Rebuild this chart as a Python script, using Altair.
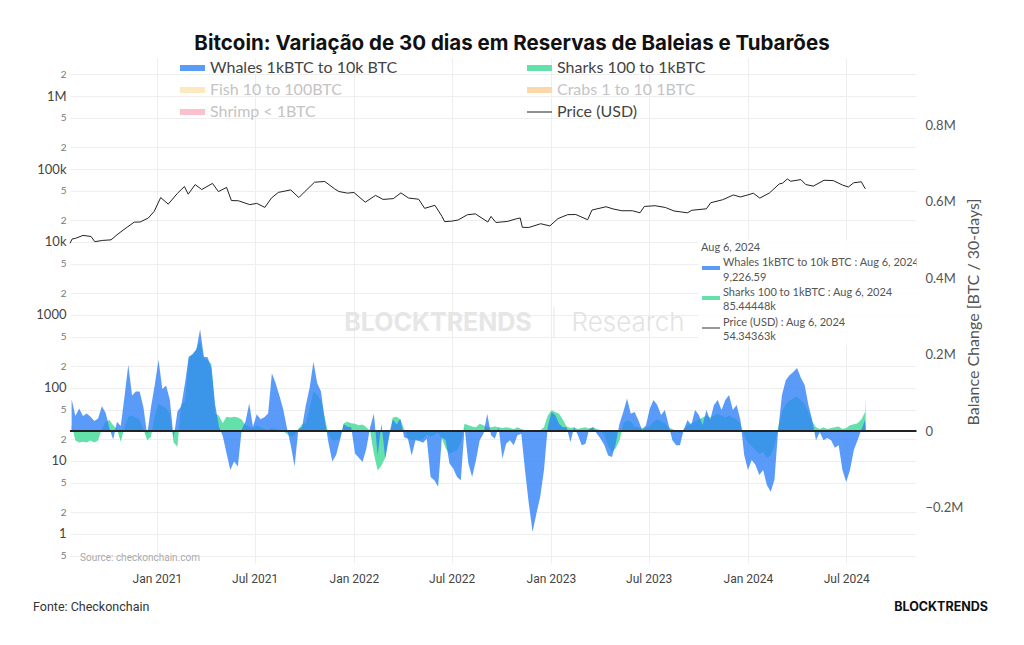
import altair as alt
import pandas as pd

# ---------------- data ----------------
# weekly dates for balance-change series (+ final day Aug 6, 2024)
bal_dates = pd.date_range("2020-07-27", periods=211, freq="7D").strftime("%Y-%m-%d").tolist() + ["2024-08-06"]

whales_k = [
    83, 39, 59, 39, 46, 37, 26, 33, 65, 48,
    7, -22, 24, 13, 90, 173, 93, 103, 103, 62,
    -10, 62, 120, 186, 110, 119, 81, -19, 51, 65,
    125, 194, 201, 212, 266, 194, 193, 164, 68, 11,
    -13, -58, -102, -80, -93, 3, 24, 72, 11, 44,
    31, 36, 46, 151, 125, 92, 57, 7, -37, -93,
    3, 11, 68, 114, 181, 125, 103, 29, -32, -80,
    -63, -25, 18, 11, 10, -59, -70, -81, -46, 10,
    45, -64, 19, -72, -16, 30, 17, 32, -16, -20,
    -64, -24, -26, -31, -20, -120, -129, -146, -16, -24,
    -85, -98, -120, -129, 10, -85, -120, -77, -24, -7,
    45, -11, -20, 10, -72, -33, -24, -37, -11, -7,
    -103, -190, -264, -216, -173, -103, 10, 50, 41, 19,
    10, 10, -29, 10, -11, -37, -33, 6, 10, -7,
    -20, -37, -64, -68, -33, 19, 50, 85, 45, 50,
    28, 2, 15, 58, 81, 68, 42, 55, 16, -24,
    -37, -37, 3, 29, 16, 55, 42, 16, 55, 29,
    68, 81, 55, 81, 94, 55, 68, 29, -63, -102,
    -76, -89, -115, -102, -141, -159, -128, 3, 94, 133,
    146, 154, 165, 139, 120, 68, 29, -24, -3, -24,
    -18, -24, -44, -37, -102, -133, -102, -50, -24, 3,
    29, 9.22659,
]

sharks_k = [
    16, -25, -30, -28, -30, -25, -30, -25, 5, 25,
    29, 15, 5, -28, 10, 37, 40, 35, 30, 5,
    -24, -15, 40, 72, 65, 60, 45, -30, -41, 70,
    77, 190, 200, 215, 235, 190, 185, 175, 46, 40,
    20, 37, 35, 37, 35, 30, 15, 11, 8, 15,
    10, 5, 3, 8, 5, 3, 0, -8, -15, -12,
    5, 18, 20, 60, 103, 95, 80, 35, -10, -24,
    -24, -20, 20, 24, 20, 19, 15, 17, 10, 0,
    -60, -103, -90, -70, -10, 35, 37, 30, 5, -20,
    -24, -22, -24, -20, -10, -15, -10, -5, -20, -45,
    -60, -55, -50, -30, 19, 15, 12, 10, 19, 15,
    10, 10, 12, 10, 8, 10, 8, 5, 10, 5,
    2, 0, -2, 0, 2, 10, 40, 54, 50, 45,
    30, 12, 8, 10, 5, 8, 10, 6, 10, 5,
    2, -10, -40, -55, -45, -25, 20, 28, 25, 12,
    10, 8, 10, 12, 25, 30, 25, 20, 10, 5,
    0, -5, 5, 15, 20, 25, 30, 35, 40, 35,
    40, 45, 40, 35, 40, 35, 30, 20, -10, -30,
    -40, -50, -60, -55, -70, -65, -40, 10, 50, 70,
    80, 85, 90, 80, 70, 50, 25, 10, 5, 10,
    5, 8, 10, 12, 5, 8, 15, 18, 20, 30,
    50, 85.44448,
]

price_dates = [
    "2020-07-24", "2020-07-28", "2020-08-03", "2020-08-17", "2020-09-01", "2020-09-08",
    "2020-09-22", "2020-10-08", "2020-10-21", "2020-11-05", "2020-11-20", "2020-12-01",
    "2020-12-16", "2020-12-27", "2021-01-08", "2021-01-22", "2021-02-08", "2021-02-21",
    "2021-02-28", "2021-03-13", "2021-03-25", "2021-04-14", "2021-04-25", "2021-05-10",
    "2021-05-19", "2021-06-01", "2021-06-22", "2021-07-05", "2021-07-20", "2021-08-01",
    "2021-08-14", "2021-09-06", "2021-09-21", "2021-10-01", "2021-10-20", "2021-11-08",
    "2021-11-26", "2021-12-04", "2021-12-20", "2022-01-01", "2022-01-22", "2022-02-10",
    "2022-02-24", "2022-03-15", "2022-03-29", "2022-04-12", "2022-05-01", "2022-05-12",
    "2022-05-31", "2022-06-13", "2022-06-18", "2022-07-01", "2022-07-13", "2022-07-30",
    "2022-08-14", "2022-09-06", "2022-09-12", "2022-09-21", "2022-10-12", "2022-10-29",
    "2022-11-05", "2022-11-09", "2022-11-21", "2022-12-13", "2022-12-30", "2023-01-14",
    "2023-02-01", "2023-02-16", "2023-03-10", "2023-03-18", "2023-04-13", "2023-04-26",
    "2023-05-12", "2023-06-01", "2023-06-15", "2023-06-23", "2023-07-13", "2023-08-01",
    "2023-08-17", "2023-09-11", "2023-09-19", "2023-10-16", "2023-10-24", "2023-11-15",
    "2023-12-05", "2023-12-18", "2024-01-01", "2024-01-11", "2024-01-23", "2024-02-10",
    "2024-02-28", "2024-03-05", "2024-03-14", "2024-03-20", "2024-04-08", "2024-04-17",
    "2024-05-01", "2024-05-21", "2024-06-07", "2024-06-24", "2024-07-05", "2024-07-15",
    "2024-07-29", "2024-08-05", "2024-08-06",
]
price_usd = [
    9600, 11000, 11200, 12300, 11900, 10100,
    10500, 10700, 12900, 15600, 18700, 18800,
    21300, 26300, 40600, 33000, 46400, 57500,
    45200, 61200, 52300, 63500, 49000, 56000,
    37000, 36700, 32500, 33800, 29800, 39900,
    47800, 51700, 40600, 48200, 65900, 67500,
    53600, 49200, 46700, 47700, 35100, 43500,
    38300, 39300, 47100, 40100, 38500, 28900,
    31800, 22500, 19000, 19300, 20000, 23600,
    24300, 18800, 22400, 18500, 19100, 20800,
    21300, 15900, 15800, 17800, 16600, 20900,
    23700, 23800, 20200, 27400, 30400, 28400,
    26800, 26800, 25100, 30700, 31400, 29700,
    26600, 25100, 27200, 28500, 34500, 37900,
    44100, 41400, 44200, 46600, 39900, 47100,
    62500, 63800, 73100, 67900, 71600, 61300,
    58300, 70100, 69400, 60300, 56700, 64800,
    66800, 54000, 54343.63,
]

x_ticks = [(2021, 1), (2021, 7), (2022, 1), (2022, 7), (2023, 1), (2023, 7), (2024, 1), (2024, 7)]
left_ticks = [0.5, 1, 2, 5, 10, 20, 50, 100, 200, 500, 1000, 2000, 5000,
              1e4, 2e4, 5e4, 1e5, 2e5, 5e5, 1e6, 2e6]
right_ticks = [-200000, 0, 200000, 400000, 600000, 800000]

# ---------------- tables ----------------
whales_df = pd.DataFrame({"date": bal_dates, "v": [w * 1000 for w in whales_k]})
sharks_df = pd.DataFrame({"date": bal_dates, "v": [s * 1000 for s in sharks_k]})
price_df = pd.DataFrame({"date": price_dates, "p": price_usd})
zero_df = pd.DataFrame({"z": [0]})
one = pd.DataFrame({"k": [0]})

# ---------------- layout ----------------
OX, OY = 70, 58          # plot origin on the page
W, H = 848, 507

FONT = "Lato"
BLUE = "#3182f9"
BLUE_SW = "#5a9bfa"
GREEN = "#64e1aa"

x_scale = alt.Scale(type="utc",
                    domain=[alt.DateTime(year=2020, month=7, date=24, utc=True),
                            alt.DateTime(year=2024, month=11, date=11, utc=True)],
                    nice=False)
x_axis = alt.Axis(values=[alt.DateTime(year=y, month=m, date=1, utc=True) for y, m in x_ticks],
                  format="%b %Y", grid=True, gridColor="#eeeeee", domain=False, ticks=False,
                  labelFont="Roboto", labelFontSize=12, labelColor="#444", labelPadding=8,
                  title=None)
X = alt.X("date:T", scale=x_scale, axis=x_axis)

bal_scale = alt.Scale(domain=[-350300, 975200], nice=False, zero=False)
bal_axis = alt.Axis(orient="right", values=right_ticks, grid=False, domain=False, ticks=False,
                    labelExpr="datum.value == 0 ? '0' : replace(format(datum.value / 1e6, '.1f'), '-', '\u2212') + 'M'",
                    labelFont=FONT, labelFontSize=13, labelColor="#555", labelPadding=7,
                    title="Balance Change [BTC / 30-days]", titleFont=FONT, titleFontSize=16,
                    titleFontWeight="normal", titleColor="#555", titleAngle=270, titlePadding=19)

DEC = "abs(log(datum.value)/LN10 - round(log(datum.value)/LN10)) < 0.001"
price_axis = alt.Axis(orient="left", values=left_ticks, grid=True, gridColor="#eeeeee",
                      domain=False, ticks=False, labelOverlap=False, labelBound=False,
                      labelExpr=("(" + DEC + ") ? (datum.value >= 1e6 ? format(datum.value/1e6,'d') + 'M' : "
                                 "datum.value >= 1e4 ? format(datum.value/1000, 'd') + 'k' : format(datum.value, 'd')) : "
                                 "format(datum.value / pow(10, floor(log(datum.value)/LN10 + 1e-9)), 'd')"),
                      labelFont=FONT,
                      labelFontSize={"condition": {"test": DEC, "value": 13}, "value": 10},
                      labelColor={"condition": {"test": DEC, "value": "#444"}, "value": "#777"},
                      labelPadding=4, title=None)
price_scale = alt.Scale(type="log", domain=[0.376, 3316000], nice=False)

sharks_area = alt.Chart(sharks_df).mark_area(color=GREEN, opacity=1).encode(
    x=X, y=alt.Y("v:Q", stack=None, scale=bal_scale, axis=bal_axis))
whales_area = alt.Chart(whales_df).mark_area(color=BLUE, opacity=0.8).encode(
    x=X, y=alt.Y("v:Q", stack=None, scale=bal_scale, axis=bal_axis))
zero_rule = alt.Chart(zero_df).mark_rule(color="#222", strokeWidth=2).encode(
    y=alt.Y("z:Q", scale=bal_scale, axis=bal_axis))
balance = alt.layer(sharks_area, whales_area, zero_rule)

price_line = alt.Chart(price_df).mark_line(color="#222", strokeWidth=1).encode(
    x=X, y=alt.Y("p:Q", scale=price_scale, axis=price_axis))


def txt(x, y, s, size=11, color="#555", weight="normal", align="left", font=FONT):
    return alt.Chart(one).mark_text(text=s, fontSize=size, color=color, fontWeight=weight,
                                    align=align, baseline="middle", font=font).encode(
        x=alt.value(x - OX), y=alt.value(y - OY))


def swatch(x1, x2, y, color, width):
    return alt.Chart(one).mark_rule(color=color, strokeWidth=width).encode(
        x=alt.value(x1 - OX), x2=alt.value(x2 - OX), y=alt.value(y - OY))


watermark = [
    txt(438, 323, "BLOCKTRENDS", size=25, color="#e6e6e6", weight="bold", align="center", font="Inter"),
    alt.Chart(one).mark_rule(color="#e6e6e6", strokeWidth=1).encode(
        x=alt.value(554 - OX), y=alt.value(307 - OY), y2=alt.value(338 - OY)),
    txt(628, 323, "Research", size=26, color="#e3e3e3", weight=300, align="center", font="Inter"),
]

legend = [
    swatch(180, 205, 68, BLUE_SW, 6), txt(210, 68, "Whales 1kBTC to 10k BTC", 16, "#444"),
    swatch(527, 552, 68, GREEN, 6), txt(557, 68, "Sharks 100 to 1kBTC", 16, "#444"),
    swatch(180, 205, 90, "#fde9bf", 6), txt(210, 90, "Fish 10 to 100BTC", 16, "#c4c4c4"),
    swatch(527, 552, 90, "#fcd8a8", 6), txt(557, 90, "Crabs 1 to 10 1BTC", 16, "#c4c4c4"),
    swatch(180, 205, 112, "#fbc0cc", 6), txt(210, 112, "Shrimp < 1BTC", 16, "#c4c4c4"),
    swatch(527, 552, 112, "#444", 1.2), txt(557, 112, "Price (USD)", 16, "#444"),
]

tip = [
    alt.Chart(one).mark_rect(color="white", opacity=0.85).encode(
        x=alt.value(698 - OX), x2=alt.value(916 - OX), y=alt.value(240 - OY), y2=alt.value(345 - OY)),
    txt(701, 248, "Aug 6, 2024", 11, "#555"),
    swatch(702, 720, 268, BLUE_SW, 4),
    txt(723, 263, "Whales 1kBTC to 10k BTC : Aug 6, 2024", 11, "#555"),
    txt(723, 278, "9,226.59", 11, "#555"),
    swatch(702, 720, 298, GREEN, 4),
    txt(723, 293, "Sharks 100 to 1kBTC : Aug 6, 2024", 11, "#555"),
    txt(723, 307, "85.44448k", 11, "#555"),
    swatch(702, 720, 328, "#999", 2),
    txt(723, 323, "Price (USD) : Aug 6, 2024", 11, "#555"),
    txt(723, 337, "54.34363k", 11, "#555"),
]

others = [
    txt(512, 44, "Bitcoin: Variação de 30 dias em Reservas de Baleias e Tubarões", 20.5, "#111",
        "bold", "center", "Inter"),
    txt(80, 558, "Source: checkonchain.com", 10, "#aaa", font="Roboto"),
    txt(33, 607, "Fonte: Checkonchain", 12.5, "#333", font="Roboto"),
    txt(988, 607, "BLOCKTRENDS", 12.5, "#111", "bold", "right", "Inter"),
]

# white cover strips over the stray frame edges at the right and bottom of the plot
covers = [
    alt.Chart(one).mark_rule(color="white", strokeWidth=3).encode(
        x=alt.value(W), y=alt.value(-1), y2=alt.value(H + 2)),
    alt.Chart(one).mark_rule(color="white", strokeWidth=3).encode(
        x=alt.value(-1), x2=alt.value(W + 2), y=alt.value(H)),
]

chart = alt.layer(
    *watermark, balance, price_line, *legend, *tip, *others, *covers
).resolve_scale(y="independent").properties(
    width=W, height=H,
    background="white",
    autosize=alt.AutoSizeParams(type="none"),
    padding={"left": OX, "top": OY, "right": 1024 - OX - W, "bottom": 645 - OY - H},
).configure_view(stroke="transparent")

chart.save("out.html", embed_options={"renderer": "svg", "actions": False})
